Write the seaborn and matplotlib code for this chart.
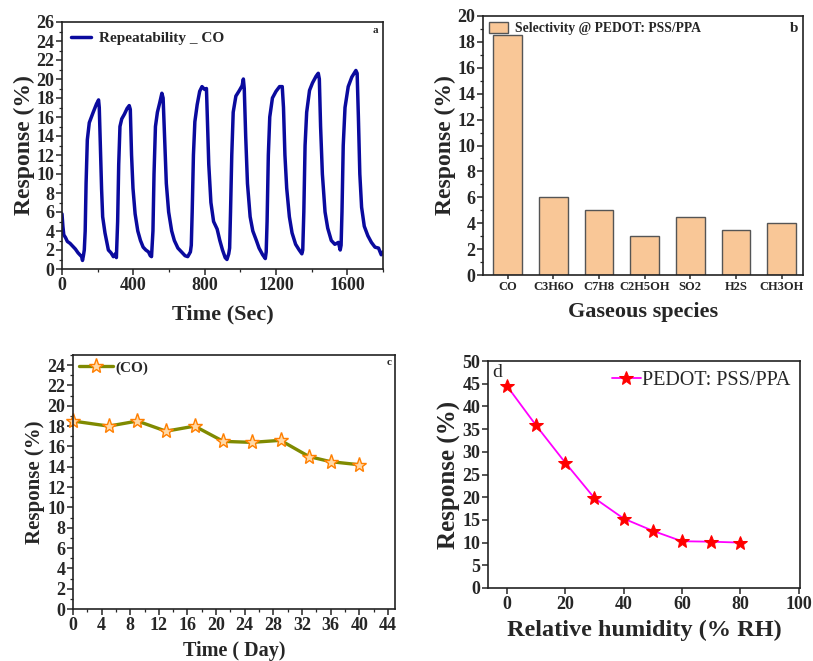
import matplotlib
matplotlib.use("Agg")
import matplotlib.pyplot as plt
import seaborn as sns
from matplotlib.ticker import MultipleLocator

# ---------------- data ----------------
# (a) repeatability transient
time_sec = [0, 5, 10, 20, 30, 45, 60, 75, 90, 100, 110, 115, 120, 125,
            130, 135, 142, 153, 165, 175, 194, 200, 205,
            209, 217, 222, 228, 241, 260, 275, 288, 300, 305,
            312, 318, 325, 335, 350, 365, 377, 383, 390, 398, 410, 425, 440, 455, 470, 485, 495, 502,
            510, 516, 524, 535, 548, 560, 567, 575, 585, 598, 615, 630, 650, 670, 690, 705, 720, 725,
            730, 737, 745, 758, 772, 785, 800, 810, 815, 823, 835, 850, 870, 885, 900, 915, 925, 935, 940,
            945, 952, 960, 975, 995, 1010, 1017, 1022, 1030, 1040, 1055, 1070, 1090, 1105, 1125, 1140, 1145,
            1150, 1157, 1165, 1180, 1200, 1220, 1235, 1242, 1250, 1260, 1275, 1290, 1310, 1330, 1345, 1350,
            1356, 1363, 1372, 1388, 1405, 1425, 1437, 1443, 1450, 1460, 1475, 1490, 1510, 1530, 1550, 1560, 1565,
            1570, 1577, 1587, 1605, 1625, 1648, 1655, 1662, 1670, 1680, 1695, 1715, 1735, 1755, 1775, 1790, 1800]
response_a = [5.8, 4.5, 3.6, 3.3, 2.9, 2.7, 2.4, 2.1, 1.7, 1.5, 1.3, 0.9, 1.4, 2.0,
              4.0, 9.0, 13.6, 15.4, 16.0, 16.5, 17.4, 17.6, 17.8,
              17.0, 11.9, 8.4, 5.5, 3.8, 2.0, 1.7, 1.3, 1.6, 1.2,
              5.0, 11.0, 15.0, 15.8, 16.3, 16.9, 17.2, 16.8, 12.0, 8.5, 5.8, 4.0, 3.0, 2.3, 2.0, 1.8, 1.4, 1.3,
              4.0, 10.0, 15.0, 16.5, 17.5, 18.5, 18.0, 14.0, 9.0, 6.0, 4.0, 3.0, 2.2, 1.8, 1.4, 1.3, 1.8, 2.5,
              6.0, 12.0, 15.5, 17.3, 18.7, 19.2, 18.9, 19.0, 16.0, 11.0, 7.0, 5.0, 4.2, 3.0, 2.0, 1.2, 1.0, 1.6, 2.2,
              6.0, 12.0, 16.5, 18.2, 18.8, 19.3, 20.0, 19.0, 14.0, 9.0, 5.5, 4.0, 3.0, 2.2, 1.5, 1.1, 1.8,
              5.0, 12.0, 16.0, 18.0, 18.7, 19.2, 19.2, 17.0, 12.0, 8.5, 5.5, 3.8, 2.6, 2.0, 1.6, 2.0,
              6.0, 13.0, 16.5, 18.8, 19.6, 20.3, 20.6, 20.0, 15.0, 10.0, 6.0, 4.3, 3.0, 2.6, 2.8, 2.0, 2.5,
              6.0, 13.0, 17.0, 19.2, 20.2, 20.9, 20.6, 16.0, 10.0, 6.5, 4.5, 3.5, 2.8, 2.3, 2.2, 1.5, 1.8]

# (b) selectivity
gases = ["CO", "C3H6O", "C7H8", "C2H5OH", "SO2", "H2S", "CH3OH"]
selectivity = [18.5, 6.0, 5.0, 3.0, 4.5, 3.5, 4.0]

# (c) stability
days = [0, 5, 9, 13, 17, 21, 25, 29, 33, 36, 40]
stability = [18.5, 18.0, 18.5, 17.5, 18.0, 16.5, 16.4, 16.6, 15.0, 14.5, 14.2]

# (d) humidity
rh = [0, 10, 20, 30, 40, 50, 60, 70, 80]
humidity_resp = [44.5, 35.8, 27.6, 19.8, 15.3, 12.6, 10.3, 10.2, 10.0]

# ---------------- style ----------------
sns.set_style("ticks")
plt.rcParams["font.family"] = ["Liberation Serif", "DejaVu Serif"]
plt.rcParams["font.weight"] = "bold"
plt.rcParams["axes.linewidth"] = 1.2
plt.rcParams["xtick.direction"] = "out"
plt.rcParams["ytick.direction"] = "out"

fig = plt.figure(figsize=(8.13, 6.61), dpi=100)

def frac(l, t, r, b):
    W, H = 813, 661
    return [l / W, 1 - b / H, (r - l) / W, (b - t) / H]

ax_a = fig.add_axes(frac(62, 22, 383, 269))
ax_b = fig.add_axes(frac(483, 16, 803, 275))
ax_c = fig.add_axes(frac(73, 355, 395, 609))
ax_d = fig.add_axes(frac(488, 361, 800, 588))

def style_ticks(ax, size):
    for lab in ax.get_xticklabels() + ax.get_yticklabels():
        lab.set_fontweight("bold")
        lab.set_fontsize(size)
    ax.tick_params(which="major", length=4, width=1.1, pad=1.5)
    ax.tick_params(which="minor", length=2, width=0.9)
    for s in ax.spines.values():
        s.set_visible(True)
        s.set_color("#222222")

# ---- (a)
sns.lineplot(x=time_sec, y=response_a, ax=ax_a, color="#0A0A9E", lw=2.5,
             label="Repeatability _ CO", sort=False)
ax_a.set_xlim(0, 1800)
ax_a.set_ylim(0, 26)
ax_a.xaxis.set_major_locator(MultipleLocator(400))
ax_a.xaxis.set_minor_locator(MultipleLocator(200))
ax_a.yaxis.set_major_locator(MultipleLocator(2))
ax_a.yaxis.set_minor_locator(MultipleLocator(1))
ax_a.set_xlabel("Time (Sec)", fontsize=16, fontweight="bold", labelpad=8)
ax_a.set_ylabel("Response (%)", fontsize=17, fontweight="bold", labelpad=1)
style_ticks(ax_a, 13)
ax_a.legend(loc="upper left", frameon=False, prop={"weight": "bold", "size": 11},
            handlelength=1.3, borderaxespad=0.2, handletextpad=0.5)
ax_a.text(0.985, 0.985, "a", transform=ax_a.transAxes, ha="right", va="top",
          fontsize=8, fontweight="bold")

# ---- (b)
sns.barplot(x=gases, y=selectivity, ax=ax_b, color="#F9C797", edgecolor="#555555",
            linewidth=1.0, width=0.63, saturation=1, label="Selectivity @ PEDOT: PSS/PPA")
ax_b.set_xlim(-0.54, 6.47)
ax_b.set_ylim(0, 20)
ax_b.yaxis.set_major_locator(MultipleLocator(2))
ax_b.yaxis.set_minor_locator(MultipleLocator(1))
ax_b.set_xlabel("Gaseous species", fontsize=16, fontweight="bold", labelpad=6)
ax_b.set_ylabel("Response (%)", fontsize=17, fontweight="bold", labelpad=1)
style_ticks(ax_b, 13)
for lab in ax_b.get_xticklabels():
    lab.set_fontsize(9)
ax_b.tick_params(axis="x", length=3)
ax_b.legend(loc="upper left", frameon=False, prop={"weight": "bold", "size": 9.8},
            handlelength=1.4, handleheight=0.9, borderaxespad=0.05, handletextpad=0.5)
ax_b.text(0.985, 0.975, "b", transform=ax_b.transAxes, ha="right", va="top",
          fontsize=11, fontweight="bold")

# ---- (c)
sns.lineplot(x=days, y=stability, ax=ax_c, color="#7F8A00", lw=2.4, marker="*",
             markersize=11, markerfacecolor="#FFD9A8", markeredgecolor="#FF7F00",
             markeredgewidth=1.0, label="(CO)", clip_on=False)
ax_c.set_xlim(0, 45)
ax_c.set_ylim(0, 25)
ax_c.xaxis.set_major_locator(MultipleLocator(4))
ax_c.xaxis.set_minor_locator(MultipleLocator(2))
ax_c.yaxis.set_major_locator(MultipleLocator(2))
ax_c.yaxis.set_minor_locator(MultipleLocator(1))
ax_c.set_xlabel("Time ( Day)", fontsize=14.5, fontweight="bold", labelpad=5)
ax_c.set_ylabel("Response (%)", fontsize=15, fontweight="bold", labelpad=2)
style_ticks(ax_c, 13)
ax_c.legend(loc="upper left", frameon=False, prop={"weight": "bold", "size": 11},
            handlelength=2.2, borderaxespad=0.0, handletextpad=0.2)
ax_c.text(0.99, 0.99, "c", transform=ax_c.transAxes, ha="right", va="top",
          fontsize=8, fontweight="bold")

# ---- (d)
sns.lineplot(x=rh, y=humidity_resp, ax=ax_d, color="#FF00FF", lw=1.3, marker="*",
             markersize=10, markerfacecolor="#FF0000", markeredgecolor="#FF0000",
             label="PEDOT: PSS/PPA")
ax_d.set_xlim(-6.5, 100.5)
ax_d.set_ylim(0, 50)
ax_d.xaxis.set_major_locator(MultipleLocator(20))
ax_d.yaxis.set_major_locator(MultipleLocator(5))
ax_d.set_xlabel("Relative humidity (% RH)", fontsize=17.5, fontweight="bold", labelpad=5)
ax_d.set_ylabel("Response (%)", fontsize=18, fontweight="bold", labelpad=1)
style_ticks(ax_d, 13)
ax_d.legend(loc="upper right", frameon=False, prop={"weight": "normal", "size": 14.5},
            handlelength=1.4, borderaxespad=0.1, handletextpad=0.05)
ax_d.text(0.015, 0.985, "d", transform=ax_d.transAxes, ha="left", va="top",
          fontsize=14, fontweight="normal")

fig.savefig("out.png", dpi=100)
